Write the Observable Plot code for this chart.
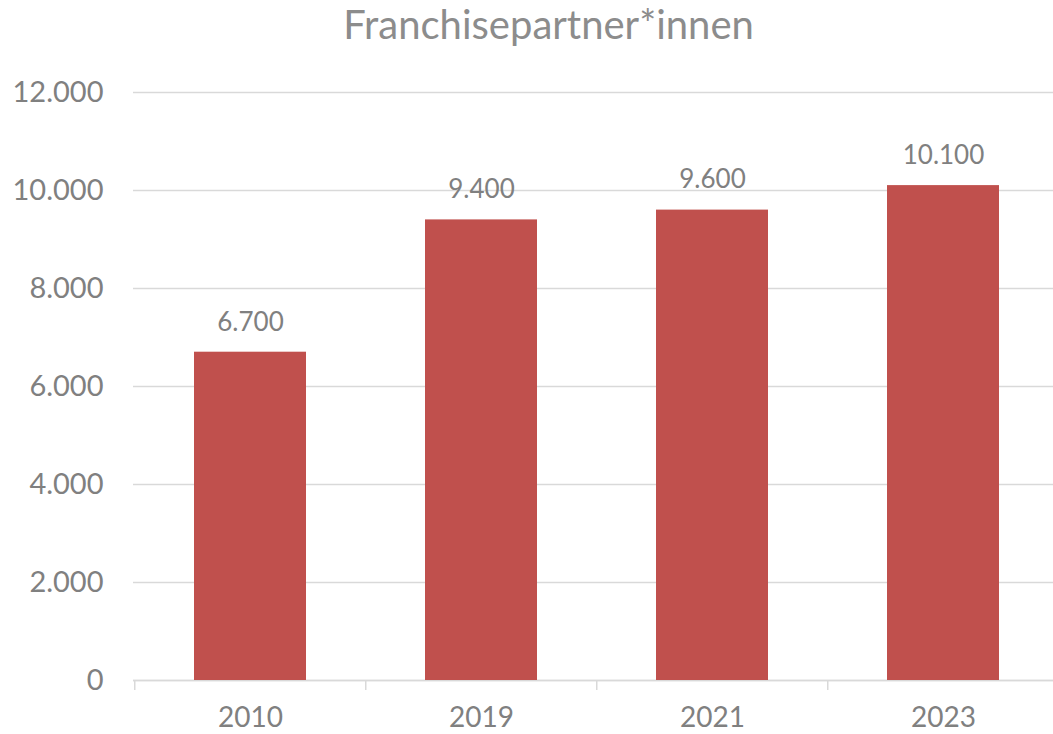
<!DOCTYPE html>
<html>
<head>
<meta charset="utf-8">
<script src="https://cdn.jsdelivr.net/npm/d3@7"></script>
<script src="https://cdn.jsdelivr.net/npm/@observablehq/plot@0.6"></script>
<style>
  body { margin: 0; background: #fff; }
  #title { height: 62px; padding-left: 44px; font-family: Lato, sans-serif; font-size: 40px; line-height: 48px; text-align: center; color: #8c8c8c; }
</style>
</head>
<body>
<div id="title">Franchisepartner*innen</div>
<div id="chart"></div>
<script>
const years = ["2010", "2019", "2021", "2023"];
const partners = [6700, 9400, 9600, 10100];
const yTicks = [0, 2000, 4000, 6000, 8000, 10000, 12000];

const data = years.map((y, i) => ({year: y, value: partners[i]}));
const de = d3.formatLocale({decimal: ",", thousands: ".", grouping: [3], currency: ["", " €"]});
const fmt = de.format(",");

const chart = Plot.plot({
  width: 1053,
  height: 672,
  marginTop: 30,
  marginBottom: 54,
  marginLeft: 133,
  marginRight: 0,
  style: {fontFamily: "Lato, sans-serif", fontSize: "29px", color: "#808080", background: "#fff"},
  x: {domain: years, range: [133, 1059], paddingInner: 0.516, paddingOuter: 0.258, label: null},
  y: {domain: [0, 12000], label: null},
  marks: [
    Plot.gridY(yTicks, {stroke: "#d9d9d9", strokeOpacity: 1, strokeWidth: 1.5}),
    Plot.ruleY([0], {stroke: "#d9d9d9", strokeWidth: 1.5}),
    Plot.ruleX(years, {x: d => d, y1: 0, y2: 0, insetBottom: -10, dx: -115.75, stroke: "#d9d9d9", strokeWidth: 1.5}),
    Plot.barY(data, {x: "year", y: "value", fill: "#C0504D"}),
    Plot.text(data, {x: "year", y: "value", text: d => fmt(d.value), dy: -30, fontSize: 26, fill: "#808080"}),
    Plot.axisY(yTicks, {tickSize: 0, tickPadding: 30, tickFormat: fmt, label: null}),
    Plot.axisX({tickSize: 0, tickPadding: 27, fontSize: 28, label: null})
  ]
});
document.getElementById("chart").appendChild(chart);
</script>
</body>
</html>
